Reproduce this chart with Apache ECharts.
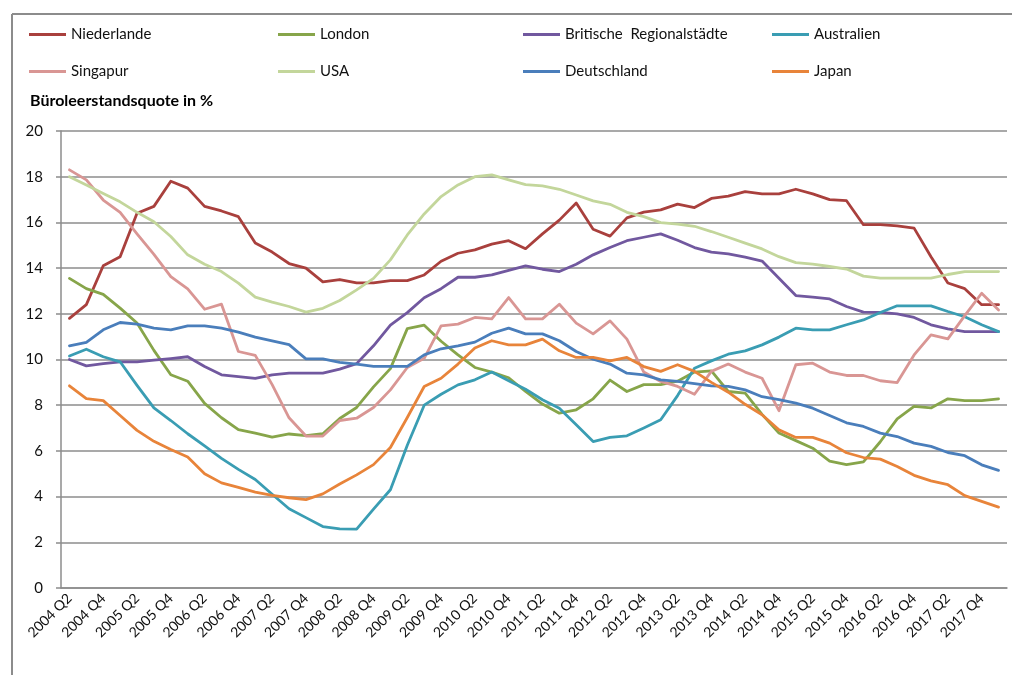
<!DOCTYPE html>
<html>
<head>
<meta charset="utf-8">
<title>Büroleerstandsquote</title>
<script src="https://cdn.jsdelivr.net/npm/echarts@6/dist/echarts.min.js"></script>
<style>
  html, body { margin: 0; padding: 0; background: #fff; }
  #chart { width: 1012px; height: 675px; }
</style>
</head>
<body>
<div id="chart"></div>
<script>
// Quartale 2004 Q2 bis 2018 Q1
const quarters = [
  '2004 Q2', '2004 Q3', '2004 Q4', '2005 Q1', '2005 Q2', '2005 Q3', '2005 Q4', '2006 Q1',
  '2006 Q2', '2006 Q3', '2006 Q4', '2007 Q1', '2007 Q2', '2007 Q3', '2007 Q4', '2008 Q1',
  '2008 Q2', '2008 Q3', '2008 Q4', '2009 Q1', '2009 Q2', '2009 Q3', '2009 Q4', '2010 Q1',
  '2010 Q2', '2010 Q3', '2010 Q4', '2011 Q1', '2011 Q2', '2011 Q3', '2011 Q4', '2012 Q1',
  '2012 Q2', '2012 Q3', '2012 Q4', '2013 Q1', '2013 Q2', '2013 Q3', '2013 Q4', '2014 Q1',
  '2014 Q2', '2014 Q3', '2014 Q4', '2015 Q1', '2015 Q2', '2015 Q3', '2015 Q4', '2016 Q1',
  '2016 Q2', '2016 Q3', '2016 Q4', '2017 Q1', '2017 Q2', '2017 Q3', '2017 Q4', '2018 Q1'
]

const niederlande = [
  11.8, 12.4, 14.1, 14.5, 16.4, 16.7, 17.8, 17.5, 16.7, 16.5, 16.25, 15.1, 14.7, 14.2,
  14.0, 13.4, 13.5, 13.35, 13.35, 13.45, 13.45, 13.7, 14.3, 14.65, 14.8, 15.05, 15.2, 14.85,
  15.5, 16.1, 16.85, 15.7, 15.4, 16.2, 16.45, 16.55, 16.8, 16.65, 17.05, 17.15, 17.35, 17.25,
  17.25, 17.45, 17.25, 17.0, 16.95, 15.9, 15.9, 15.85, 15.75, 14.5, 13.35, 13.1, 12.4, 12.4
]
const london = [
  13.55, 13.1, 12.85, 12.25, 11.6, 10.4, 9.33, 9.05, 8.08, 7.45, 6.93, 6.78, 6.6, 6.74,
  6.67, 6.75, 7.42, 7.9, 8.8, 9.6, 11.35, 11.5, 10.8, 10.2, 9.65, 9.45, 9.2, 8.6,
  8.05, 7.65, 7.8, 8.28, 9.1, 8.6, 8.9, 8.9, 9.05, 9.45, 9.5, 8.6, 8.53, 7.6,
  6.78, 6.45, 6.12, 5.55, 5.4, 5.52, 6.4, 7.4, 7.95, 7.88, 8.28, 8.2, 8.2, 8.28
]
const britisch = [
  10.0, 9.72, 9.82, 9.9, 9.9, 9.97, 10.04, 10.12, 9.69, 9.33, 9.25, 9.17, 9.33, 9.4,
  9.4, 9.4, 9.58, 9.82, 10.6, 11.5, 12.05, 12.7, 13.1, 13.6, 13.6, 13.7, 13.9, 14.1,
  13.95, 13.85, 14.17, 14.58, 14.9, 15.2, 15.35, 15.5, 15.22, 14.9, 14.7, 14.62, 14.48, 14.31,
  13.56, 12.8, 12.73, 12.65, 12.32, 12.07, 12.06, 12.0, 11.84, 11.52, 11.34, 11.22, 11.22, 11.22
]
const australien = [
  10.15, 10.45, 10.12, 9.9, 8.87, 7.88, 7.33, 6.75, 6.22, 5.67, 5.19, 4.75, 4.1, 3.47,
  3.08, 2.69, 2.59, 2.58, 3.45, 4.3, 6.25, 8.0, 8.48, 8.89, 9.11, 9.45, 9.07, 8.7,
  8.24, 7.87, 7.14, 6.41, 6.59, 6.66, 7.0, 7.36, 8.42, 9.62, 9.94, 10.23, 10.38, 10.64,
  10.98, 11.37, 11.3, 11.3, 11.52, 11.73, 12.06, 12.35, 12.35, 12.35, 12.1, 11.87, 11.52, 11.22
]
const singapur = [
  18.3, 17.86, 16.98, 16.44, 15.5, 14.6, 13.63, 13.09, 12.2, 12.42, 10.35, 10.18, 8.9, 7.45,
  6.65, 6.65, 7.33, 7.43, 7.9, 8.67, 9.65, 10.05, 11.47, 11.55, 11.84, 11.78, 12.71, 11.78,
  11.78, 12.42, 11.59, 11.12, 11.69, 10.89, 9.45, 9.04, 8.82, 8.48, 9.48, 9.8, 9.45, 9.18,
  7.76, 9.77, 9.84, 9.45, 9.3, 9.3, 9.07, 8.99, 10.2, 11.08, 10.9, 11.92, 12.9, 12.17
]
const usa = [
  18.0, 17.64, 17.27, 16.9, 16.44, 16.03, 15.38, 14.58, 14.17, 13.85, 13.34, 12.73, 12.51, 12.32,
  12.07, 12.24, 12.58, 13.05, 13.55, 14.36, 15.45, 16.37, 17.13, 17.64, 18.0, 18.08, 17.86, 17.65,
  17.6, 17.45, 17.2, 16.94, 16.79, 16.44, 16.25, 15.99, 15.92, 15.83, 15.6, 15.35, 15.09, 14.84,
  14.5, 14.24, 14.17, 14.07, 13.96, 13.65, 13.56, 13.56, 13.56, 13.56, 13.72, 13.85, 13.85, 13.85
]
const deutschland = [
  10.6, 10.75, 11.3, 11.62, 11.55, 11.37, 11.3, 11.47, 11.47, 11.37, 11.2, 10.98, 10.82, 10.65,
  10.03, 10.03, 9.87, 9.8, 9.7, 9.7, 9.7, 10.2, 10.47, 10.6, 10.76, 11.15, 11.37, 11.12,
  11.12, 10.82, 10.35, 10.01, 9.8, 9.4, 9.33, 9.11, 9.04, 8.94, 8.85, 8.82, 8.67, 8.37,
  8.24, 8.09, 7.87, 7.55, 7.23, 7.07, 6.78, 6.63, 6.34, 6.2, 5.93, 5.79, 5.39, 5.15
]
const japan = [
  8.85, 8.29, 8.2, 7.55, 6.9, 6.42, 6.06, 5.73, 5.0, 4.6, 4.4, 4.2, 4.05, 3.95,
  3.87, 4.12, 4.55, 4.95, 5.4, 6.15, 7.46, 8.82, 9.18, 9.8, 10.5, 10.82, 10.64, 10.64,
  10.89, 10.38, 10.09, 10.09, 9.94, 10.09, 9.69, 9.48, 9.77, 9.48, 9.0, 8.57, 8.04, 7.58,
  6.92, 6.59, 6.59, 6.34, 5.92, 5.71, 5.64, 5.32, 4.93, 4.69, 4.52, 4.04, 3.79, 3.54
]

const seriesList = [
  { name: 'Niederlande', data: niederlande, color: '#A9403D' },
  { name: 'London', data: london, color: '#87A54A' },
  { name: 'Britische  Regionalstädte', data: britisch, color: '#71589F' },
  { name: 'Australien', data: australien, color: '#3A9DB3' },
  { name: 'Singapur', data: singapur, color: '#D99694' },
  { name: 'USA', data: usa, color: '#C3D69B' },
  { name: 'Deutschland', data: deutschland, color: '#4A7EBB' },
  { name: 'Japan', data: japan, color: '#E8843A' }
]

// Legendenpositionen (2 Zeilen x 4 Spalten)
const legendLeft = [29, 278, 523, 772]
const legendTop = [27, 64]

const font = 'Lato, "Liberation Sans", sans-serif'
const gridColor = '#8c8c8c'

let chart = echarts.init(document.getElementById('chart'), null, { renderer: 'canvas' })

let legends = seriesList.map((s, i) => ({
  data: [s.name],
  left: legendLeft[i % 4],
  top: legendTop[Math.floor(i / 4)],
  padding: 0,
  icon: 'rect',
  itemWidth: 37,
  itemHeight: 3,
  itemGap: 0,
  textStyle: { fontFamily: font, fontSize: 15, color: '#111' }
}))

let option = {
  backgroundColor: '#fff',
  animation: false,
  title: {
    text: 'Büroleerstandsquote in %',
    left: 25,
    top: 88,
    textStyle: { fontFamily: font, fontSize: 16, fontWeight: 'bold', color: '#000' }
  },
  legend: legends,
  // Rahmen oben und links (rechts/unten abgeschnitten)
  graphic: [{
    type: 'line',
    shape: { x1: 12, y1: 14, x2: 1012, y2: 14 },
    style: { stroke: '#8c8c8c', lineWidth: 2 },
    silent: true
  }, {
    type: 'line',
    shape: { x1: 12, y1: 14, x2: 12, y2: 675 },
    style: { stroke: '#8c8c8c', lineWidth: 2 },
    silent: true
  }],
  grid: { left: 61, right: 5, top: 131, bottom: 87 },
  xAxis: [{
    type: 'category',
    data: quarters,
    boundaryGap: true,
    axisLine: { lineStyle: { color: gridColor, width: 1.5 } },
    axisTick: { interval: 1, length: 6, lineStyle: { color: gridColor, width: 1.5 } },
    axisLabel: {
      interval: 1,
      rotate: 45,
      margin: 8,
      fontFamily: font,
      fontSize: 14,
      color: '#111'
    },
    splitLine: { show: false }
  }, {
    // kleine Striche zwischen den Quartalen
    type: 'category',
    data: quarters,
    position: 'bottom',
    boundaryGap: true,
    axisLine: { show: false },
    axisTick: { interval: 0, inside: true, length: 4, lineStyle: { color: gridColor, width: 1.5 } },
    axisLabel: { show: false }
  }],
  yAxis: {
    type: 'value',
    min: 0,
    max: 20,
    interval: 2,
    axisLine: { show: true, lineStyle: { color: gridColor, width: 1.5 } },
    axisTick: { show: true, length: 5, lineStyle: { color: gridColor, width: 1.5 } },
    axisLabel: { fontFamily: font, fontSize: 15, color: '#111', margin: 18 },
    splitLine: { lineStyle: { color: gridColor, width: 1.5 } }
  },
  series: seriesList.map(s => ({
    name: s.name,
    type: 'line',
    data: s.data,
    xAxisIndex: 0,
    showSymbol: false,
    symbol: 'none',
    smooth: false,
    color: s.color,
    lineStyle: { width: 2.8, color: s.color, cap: 'round', join: 'round' }
  }))
}

chart.setOption(option)
</script>
</body>
</html>
